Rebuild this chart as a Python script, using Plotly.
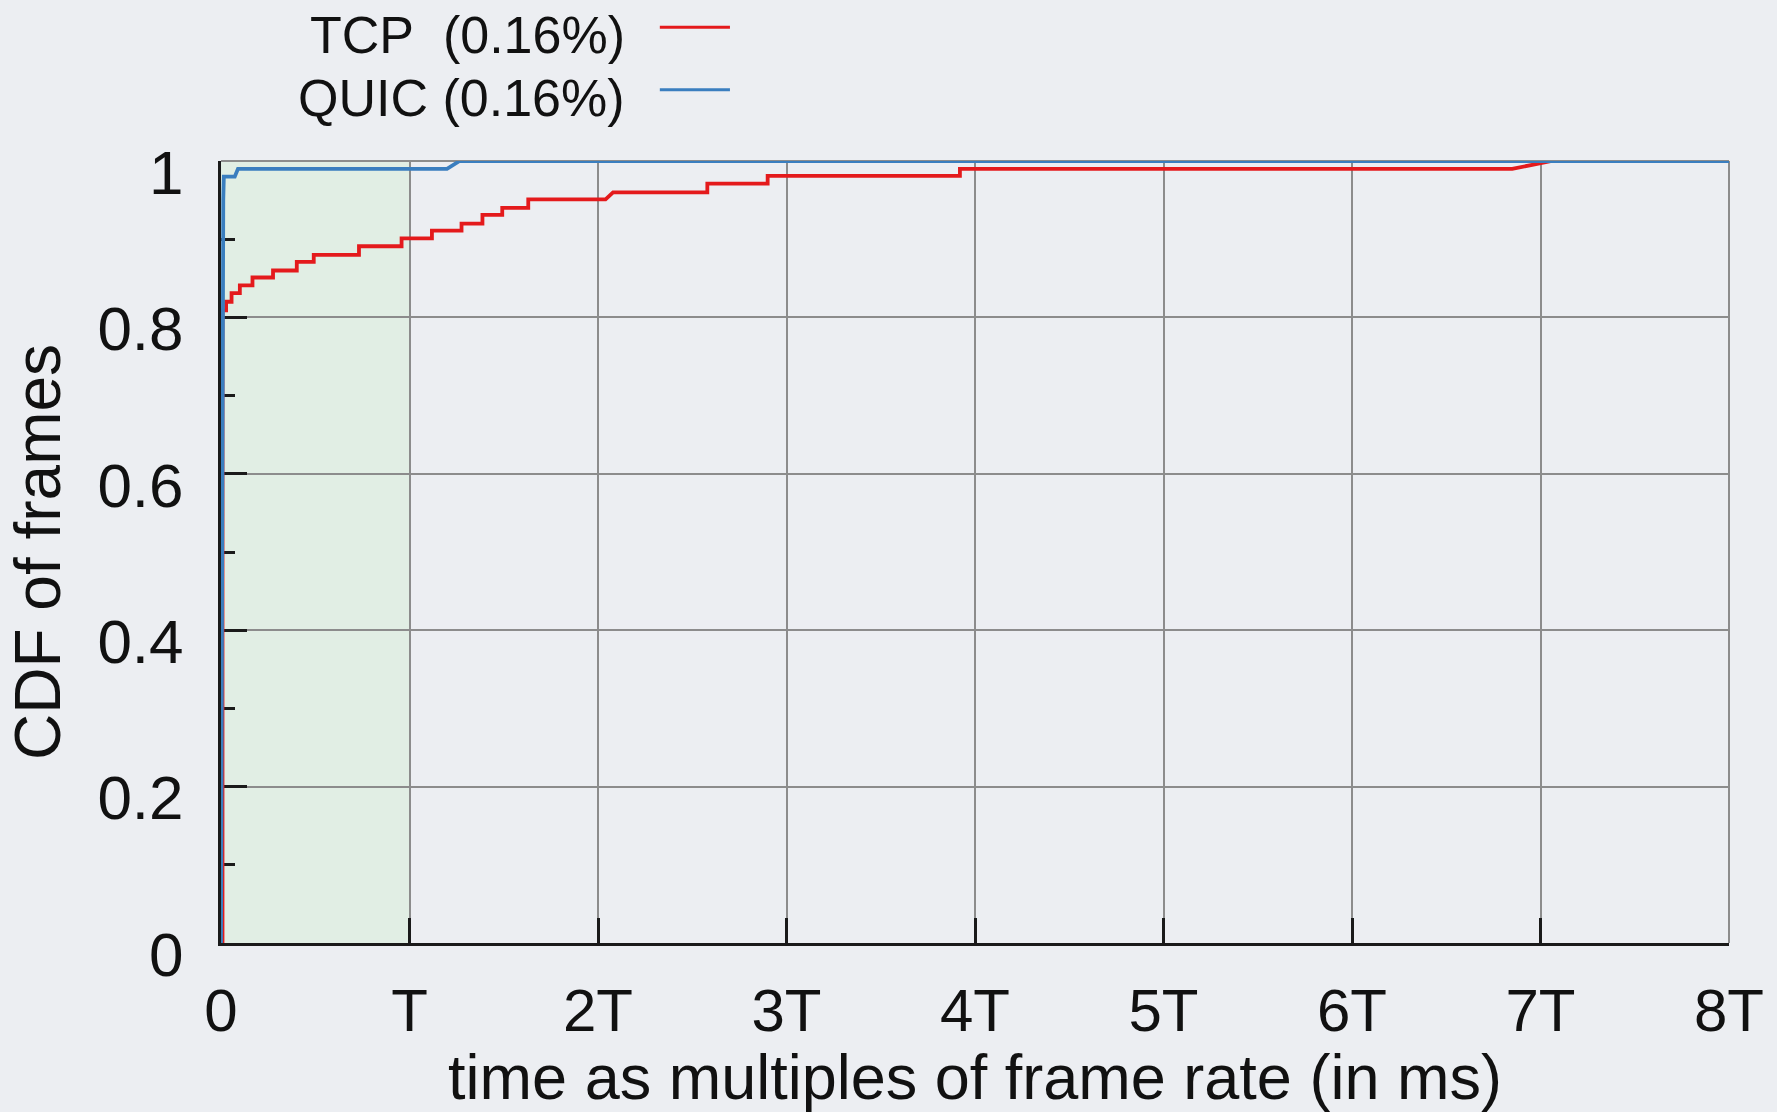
import plotly.graph_objects as go

# ---- data (x in multiples of the frame period T, y = CDF) ----
tcp_x = [0, 0.008, 0.008, 0.027, 0.027, 0.056, 0.056, 0.100, 0.100, 0.167, 0.167,
         0.276, 0.276, 0.402, 0.402, 0.492, 0.492, 0.732, 0.732, 0.958, 0.958,
         1.119, 1.119, 1.276, 1.276, 1.387, 1.387, 1.492, 1.492, 1.630, 1.630,
         2.04, 2.08, 2.58, 2.58, 2.90, 2.90, 3.92, 3.92, 6.85, 7.06, 8.0]
tcp_y = [0, 0, 0.809, 0.809, 0.820, 0.820, 0.831, 0.831, 0.841, 0.841, 0.851,
         0.851, 0.860, 0.860, 0.871, 0.871, 0.880, 0.880, 0.891, 0.891, 0.901,
         0.901, 0.911, 0.911, 0.920, 0.920, 0.931, 0.931, 0.940, 0.940, 0.951,
         0.951, 0.960, 0.960, 0.971, 0.971, 0.981, 0.981, 0.990, 0.990, 1.0, 1.0]

quic_x = [0, 0.004, 0.008, 0.012, 0.015, 0.073, 0.090, 1.199, 1.266, 8.0]
quic_y = [0, 0.50, 0.85, 0.95, 0.980, 0.980, 0.990, 0.990, 1.0, 1.0]

series_names = ["TCP\u00a0\u00a0(0.16%)", "QUIC (0.16%)"]
series_colors = ["#e41a1c", "#3a7ebf"]

x_tickvals = [0, 1, 2, 3, 4, 5, 6, 7, 8]
x_ticktext = ["0", "T", "2T", "3T", "4T", "5T", "6T", "7T", "8T"]
y_tickvals = [0, 0.2, 0.4, 0.6, 0.8, 1.0]
y_ticktext = ["0", "0.2", "0.4", "0.6", "0.8", "1"]

fast_window = [0, 1]  # shaded region: 0 .. T

FONT = "Liberation Sans, Arial, Helvetica, sans-serif"
INK = "#1a1a1a"
GRID = "#8c8c8c"
BG = "#eceef2"

fig = go.Figure()
fig.add_trace(go.Scatter(x=tcp_x, y=tcp_y, mode="lines", name=series_names[0],
                         line=dict(color=series_colors[0], width=3.8), showlegend=False))
fig.add_trace(go.Scatter(x=quic_x, y=quic_y, mode="lines", name=series_names[1],
                         line=dict(color=series_colors[1], width=3.8), showlegend=False))

# shaded window
fig.add_shape(type="rect", xref="x", yref="y domain", x0=fast_window[0], x1=fast_window[1],
              y0=0, y1=1, fillcolor="#e1eee4", line=dict(width=0), layer="below")
# top and right frame (gray like the grid)
fig.add_shape(type="line", xref="x domain", yref="y domain", x0=0, x1=1, y0=1, y1=1,
              line=dict(color=GRID, width=2), layer="below")
fig.add_shape(type="line", xref="x domain", yref="y domain", x0=1, x1=1, y0=0, y1=1,
              line=dict(color=GRID, width=2), layer="below")

# legend (text on the left, line sample on the right)
leg_y = [1.161, 1.080]
line_y = [1.171, 1.091]
for name, color, ty, ly in zip(series_names, series_colors, leg_y, line_y):
    fig.add_annotation(text=name, xref="paper", yref="paper", x=0.2692, y=ty,
                       xanchor="right", yanchor="middle", showarrow=False,
                       font=dict(family=FONT, size=52, color="#111111"))
    fig.add_shape(type="line", xref="paper", yref="paper", x0=0.291, x1=0.3375,
                  y0=ly, y1=ly, line=dict(color=color, width=3))

fig.update_xaxes(
    range=[0, 8], tickvals=x_tickvals, ticktext=x_ticktext,
    ticks="inside", ticklen=25, tickwidth=3, tickcolor=INK,
    showline=True, linecolor=INK, linewidth=3,
    showgrid=True, gridcolor=GRID, gridwidth=2, zeroline=False,
    tickfont=dict(family=FONT, size=60, color="#111111"),
    ticklabelstandoff=13,
    layer="below traces",
    title=dict(text="time as multiples of frame rate (in ms)",
               font=dict(family=FONT, size=63, color="#111111"), standoff=4),
)
fig.update_yaxes(
    range=[0, 1], tickvals=y_tickvals, ticktext=y_ticktext,
    ticks="inside", ticklen=26, tickwidth=3, tickcolor=INK,
    showline=True, linecolor=INK, linewidth=3,
    showgrid=True, gridcolor=GRID, gridwidth=2, zeroline=False,
    minor=dict(dtick=0.1, tick0=0, ticks="inside", ticklen=14, tickwidth=3,
               tickcolor=INK, showgrid=False),
    tickfont=dict(family=FONT, size=62, color="#111111"),
    ticklabelstandoff=22, ticklabelshift=11,
    layer="below traces",
    title=dict(text="CDF of frames", font=dict(family=FONT, size=64, color="#111111"),
               standoff=16),
)

fig.update_layout(
    width=1777, height=1112,
    margin=dict(l=221, r=48, t=161, b=169, autoexpand=False),
    paper_bgcolor=BG, plot_bgcolor=BG,
    showlegend=False,
)

fig.write_html("out.html")
